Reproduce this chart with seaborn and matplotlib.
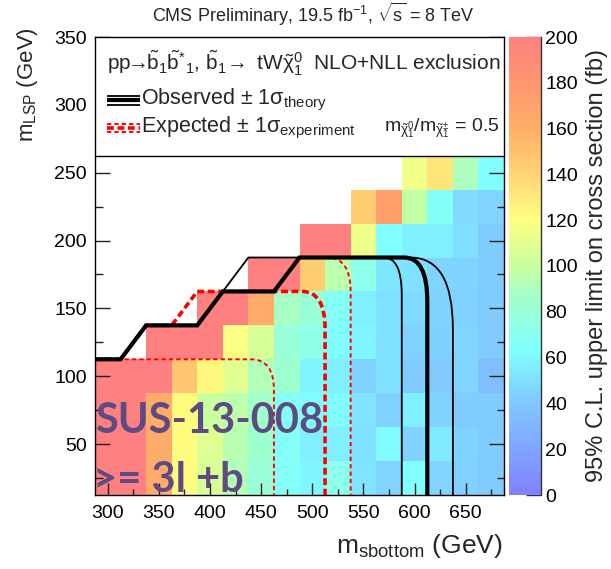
import numpy as np
import pandas as pd
import matplotlib
matplotlib.use("Agg")
import matplotlib.pyplot as plt
import seaborn as sns
from matplotlib.colors import LinearSegmentedColormap
from matplotlib.path import Path
from matplotlib.patches import PathPatch, Rectangle
from matplotlib.ticker import MultipleLocator
from matplotlib.lines import Line2D

# ---------------------------------------------------------------- data
NA = np.nan
m_sbottom = [300, 325, 350, 375, 400, 425, 450, 475, 500, 525, 550, 575, 600, 625, 650, 675]
m_lsp = [25, 50, 75, 100, 125, 150, 175, 200, 225, 250]

# 95% CL upper limit on the cross section (fb), one list per LSP mass row
ul_lsp025 = [350, 330, 162, 121, 106, 92, 80, 66, 60, 72, 52, 46, 64, 46, 44, 42]
ul_lsp050 = [350, 330, 162, 121, 108, 94, 84, 66, 57, 57, 50, 61, 44, 54, 45, 42]
ul_lsp075 = [350, 330, 162, 122, 100, 96, 86, 66, 63, 63, 52, 44, 57, 45, 42, 42]
ul_lsp100 = [350, 330, 260, 148, 124, 108, 92, 84, 60, 57, 44, 50, 41, 41, 46, 35]
ul_lsp125 = [NA, NA, 320, 290, 240, 118, 105, 80, 74, 62, 60, 50, 44, 43, 46, 41]
ul_lsp150 = [NA, NA, NA, NA, 300, 250, 162, 88, 80, 66, 57, 50, 47, 45, 44, 42]
ul_lsp175 = [NA, NA, NA, NA, NA, NA, 280, 230, 143, 96, 72, 53, 50, 46, 45, 42]
ul_lsp200 = [NA, NA, NA, NA, NA, NA, NA, NA, 260, 240, 114, 64, 57, 57, 50, 42]
ul_lsp225 = [NA, NA, NA, NA, NA, NA, NA, NA, NA, NA, 143, 172, 98, 66, 48, 46]
ul_lsp250 = [NA, NA, NA, NA, NA, NA, NA, NA, NA, NA, NA, NA, 115, 132, 90, 64]

# exclusion contours: staircase, end of the flat top, corner, start of the vertical edge, bottom
obs_x = [287.5, 312.5, 337.5, 387.5, 412.5, 462.5, 487.5, 590.0, 612.5, 612.5, 612.5]
obs_y = [112.5, 112.5, 137.5, 137.5, 162.5, 162.5, 187.5, 187.5, 187.5, 155.0, 12.5]
obs_up_x = [287.5, 312.5, 337.5, 387.5, 412.5, 437.5, 596.0, 637.5, 637.5, 637.5]
obs_up_y = [112.5, 112.5, 137.5, 137.5, 162.5, 187.5, 187.5, 187.5, 135.0, 12.5]
obs_dn_x = [287.5, 312.5, 337.5, 387.5, 412.5, 462.5, 487.5, 570.0, 587.5, 587.5, 587.5]
obs_dn_y = [112.5, 112.5, 137.5, 137.5, 162.5, 162.5, 187.5, 187.5, 187.5, 160.0, 12.5]
exp_x = [287.5, 312.5, 337.5, 362.5, 387.5, 490.0, 512.5, 512.5, 512.5]
exp_y = [112.5, 112.5, 137.5, 137.5, 162.5, 162.5, 162.5, 135.0, 12.5]
exp_up_x = [287.5, 312.5, 337.5, 387.5, 412.5, 462.5, 487.5, 515.0, 537.5, 537.5, 537.5]
exp_up_y = [112.5, 112.5, 137.5, 137.5, 162.5, 162.5, 187.5, 187.5, 187.5, 162.0, 12.5]
exp_dn_x = [287.5, 440.0, 462.5, 462.5, 462.5]
exp_dn_y = [112.5, 112.5, 112.5, 90.0, 12.5]

x_ticks = [300, 350, 400, 450, 500, 550, 600, 650]
cbar_ticks = [0, 20, 40, 60, 80, 100, 120, 140, 160, 180, 200]

# ---------------------------------------------------------------- style
sns.set_theme(style="ticks")
plt.rcParams.update({
    "font.family": ["Liberation Sans", "DejaVu Sans"],
    "mathtext.fontset": "custom",
    "mathtext.rm": "Liberation Sans",
    "mathtext.it": "Liberation Sans",
    "mathtext.bf": "Liberation Sans:bold",
    "mathtext.sf": "Liberation Sans",
    "xtick.labelsize": 14, "ytick.labelsize": 14,
    "xtick.labelcolor": "black", "ytick.labelcolor": "black",
})

grid = pd.DataFrame(
    [ul_lsp025, ul_lsp050, ul_lsp075, ul_lsp100, ul_lsp125,
     ul_lsp150, ul_lsp175, ul_lsp200, ul_lsp225, ul_lsp250],
    index=m_lsp, columns=m_sbottom,
)

pastel_rainbow = LinearSegmentedColormap.from_list(
    "pastel_rainbow",
    [(0 / 200, "#8080ff"), (20 / 200, "#80a5ff"), (40 / 200, "#80c8ff"),
     (63 / 200, "#80ffff"), (85 / 200, "#a0ffcd"), (100 / 200, "#c8ffa0"),
     (120 / 200, "#ffff80"), (140 / 200, "#ffd473"), (160 / 200, "#ffaf69"),
     (180 / 200, "#ff966e"), (200 / 200, "#ff8080")],
)

W, H = 611, 569
fig = plt.figure(figsize=(W / 100, H / 100), dpi=100)
fig.patch.set_facecolor("white")

L, R, T, B = 95, 504, 37, 495
rect = [L / W, 1 - B / H, (R - L) / W, (B - T) / H]
cax = fig.add_axes([509 / W, 1 - B / H, 32 / W, (B - T) / H])
ax_hm = fig.add_axes(rect)

xlo, xhi = 287.5, 687.5
ylo, yhi = 12.5, 350.0
step = 25.0

sns.heatmap(grid, ax=ax_hm, cmap=pastel_rainbow, vmin=0, vmax=200,
            cbar_ax=cax, xticklabels=False, yticklabels=False,
            linewidths=0)
ax_hm.set_xlim(0, (xhi - xlo) / step)
ax_hm.set_ylim(0, (yhi - ylo) / step)
ax_hm.axis("off")

# overlay axes carrying physical coordinates
ax = fig.add_axes(rect, label="overlay")
ax.set_zorder(2)
ax.set_facecolor("none")
ax.set_xlim(xlo, xhi)
ax.set_ylim(ylo, yhi)
for s in ax.spines.values():
    s.set_visible(True)
    s.set_color("black")
    s.set_linewidth(1.0)


def contour_patch(xs, ys, **kw):
    verts = list(zip(xs, ys))
    codes = [Path.MOVETO] + [Path.LINETO] * (len(verts) - 4) + [Path.CURVE3, Path.CURVE3, Path.LINETO]
    return PathPatch(Path(verts, codes), fill=False, capstyle="butt", joinstyle="miter", **kw)


red = "#ff0000"
thin_dash = (0, (2.2, 1.6))
thick_dash = (0, (1.9, 1.0))
ax.add_patch(contour_patch(exp_dn_x, exp_dn_y, edgecolor=red, lw=1.4, linestyle=thin_dash, zorder=3))
ax.add_patch(contour_patch(exp_up_x, exp_up_y, edgecolor=red, lw=1.4, linestyle=thin_dash, zorder=3))
ax.add_patch(contour_patch(exp_x, exp_y, edgecolor=red, lw=2.6, linestyle=thick_dash, zorder=3))
ax.add_patch(contour_patch(obs_dn_x, obs_dn_y, edgecolor="black", lw=1.3, zorder=4))
ax.add_patch(contour_patch(obs_up_x, obs_up_y, edgecolor="black", lw=1.3, zorder=4))
ax.add_patch(contour_patch(obs_x, obs_y, edgecolor="black", lw=3.0, zorder=4))

# tick positions come from the axis locators; the marks are drawn as inward rules
ax.set_xticks(x_ticks)
ax.set_xticklabels([str(t) for t in x_ticks])
ax.xaxis.set_minor_locator(MultipleLocator(25))
ax.yaxis.set_major_locator(MultipleLocator(50))
ax.yaxis.set_minor_locator(MultipleLocator(25))
ax.tick_params(axis="both", which="both", length=0, top=False, right=False)
ax.tick_params(axis="x", which="major", pad=7)
ax.tick_params(axis="y", which="major", pad=6)

tick_col = "#222222"
x_major = [v for v in ax.xaxis.get_majorticklocs() if xlo <= v <= xhi]
x_minor = [v for v in ax.xaxis.get_minorticklocs() if xlo <= v <= xhi and v not in x_major]
y_major = [v for v in ax.yaxis.get_majorticklocs() if ylo <= v <= yhi]
y_minor = [v for v in ax.yaxis.get_minorticklocs() if ylo <= v <= yhi and v not in y_major]
xt = ax.get_xaxis_transform()
yt = ax.get_yaxis_transform()
ax.vlines(x_major, 0, 12 / (B - T), transform=xt, color=tick_col, lw=1.0, zorder=4.5, clip_on=False)
ax.vlines(x_minor, 0, 6 / (B - T), transform=xt, color=tick_col, lw=1.0, zorder=4.5, clip_on=False)
ax.hlines(y_major, 0, 15 / (R - L), transform=yt, color=tick_col, lw=1.0, zorder=4.5, clip_on=False)
ax.hlines(y_minor, 0, 7.5 / (R - L), transform=yt, color=tick_col, lw=1.0, zorder=4.5, clip_on=False)
ax.hlines(y_major, 1 - 15 / (R - L), 1, transform=yt, color=tick_col, lw=1.0, zorder=4.5, clip_on=False)
ax.hlines(y_minor, 1 - 7.5 / (R - L), 1, transform=yt, color=tick_col, lw=1.0, zorder=4.5, clip_on=False)

# legend box
ax.add_patch(Rectangle((xlo, 262.5), xhi - xlo, yhi - 262.5, facecolor="white",
                       edgecolor="black", lw=1.0, zorder=5))
ax.text(0.029, 0.943,
        r"pp$\!\!\rightarrow\!\!\tilde{b}_{1}\tilde{b}^{*}{}_{1}$, $\tilde{b}_{1}\!\rightarrow$ tW$\tilde{\chi}^{0}_{1}$  NLO+NLL exclusion",
        transform=ax.transAxes, fontsize=15, ha="left", va="center", zorder=6)

ly_obs, ly_exp = 0.862, 0.801
dy = 0.0095
for off, lw in [(dy, 1.3), (0.0, 3.0), (-dy, 1.3)]:
    ax.add_line(Line2D([0.029, 0.110], [ly_obs + off] * 2, transform=ax.transAxes,
                       color="black", lw=lw, zorder=6, solid_capstyle="butt"))
for off, lw, ls in [(dy, 1.4, thin_dash), (0.0, 2.6, thick_dash), (-dy, 1.4, thin_dash)]:
    ax.add_line(Line2D([0.029, 0.110], [ly_exp + off] * 2, transform=ax.transAxes,
                       color=red, lw=lw, ls=ls, zorder=6, dash_capstyle="butt"))
ax.text(0.113, ly_obs, r"Observed $\pm$ 1$\sigma_{\mathrm{theory}}$", transform=ax.transAxes,
        fontsize=15.5, ha="left", va="center", zorder=6)
ax.text(0.113, ly_exp, r"Expected $\pm$ 1$\sigma_{\mathrm{experiment}}$", transform=ax.transAxes,
        fontsize=15.5, ha="left", va="center", zorder=6)
ax.text(0.99, ly_exp, r"m$_{\tilde{\chi}^{0}_{1}}$/m$_{\tilde{\chi}^{\pm}_{1}}$ = 0.5",
        transform=ax.transAxes, fontsize=14, ha="right", va="center", zorder=6)

# analysis tag
tag_color = "#5e4b82"
ax.text(0.0, 0.135, "SUS-13-008", transform=ax.transAxes, fontsize=30, fontweight="bold",
        family=["Lato", "DejaVu Sans"], color=tag_color, ha="left", va="baseline", zorder=7)
ax.text(-0.005, 0.006, ">= 3l +b", transform=ax.transAxes, fontsize=30, fontweight="bold",
        family=["Lato", "DejaVu Sans"], color=tag_color, ha="left", va="baseline", zorder=7,
        clip_on=True)

# axis titles and header
fig.text(503 / W, 1 - 553 / H, r"m$_{\mathrm{sbottom}}$ (GeV)", fontsize=19, ha="right", va="baseline")
fig.text(27 / W, 1 - 27 / H, r"m$_{\mathrm{LSP}}$ (GeV)", fontsize=16, rotation=90, ha="center", va="top")
fig.text(313 / W, 1 - 14 / H, r"CMS Preliminary, 19.5 fb$^{-1}$, $\sqrt{\mathrm{s}}$ = 8 TeV",
         fontsize=13, ha="center", va="center")

# colour bar
cbar = ax_hm.collections[0].colorbar
cbar.outline.set_visible(False)
cbar.set_ticks(cbar_ticks)
cbar.set_ticklabels([str(t) for t in cbar_ticks])
cax.tick_params(axis="y", which="both", direction="in", length=11, width=1.0, color="#333333",
                labelsize=14, pad=3, right=True, left=False)
cax.plot([1, 1], [0, 1], transform=cax.transAxes, color="#333333", lw=1.0, clip_on=False)
cax.set_ylabel("95% C.L. upper limit on cross section (fb)", fontsize=17, labelpad=6)
cax.yaxis.set_label_position("right")

fig.savefig("out.png", dpi=100)
